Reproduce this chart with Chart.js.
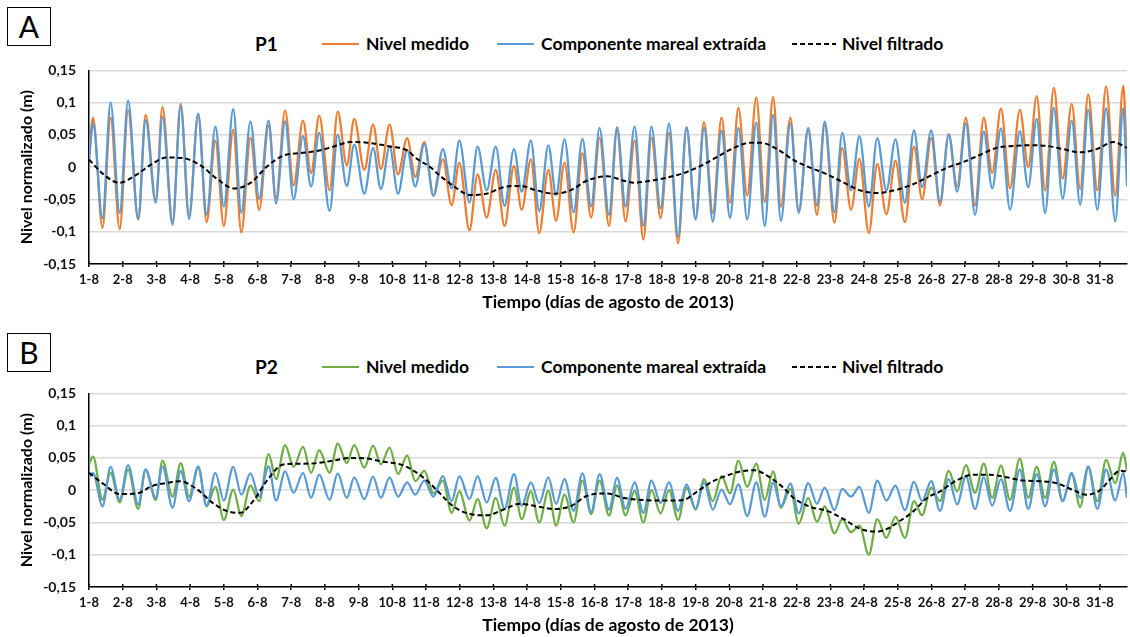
<!DOCTYPE html>
<html>
<head>
<meta charset="utf-8">
<script src="https://cdn.jsdelivr.net/npm/chart.js@4.4.1/dist/chart.umd.min.js"></script>
<style>
    body { margin: 0; background: #fff; font-family: Lato, "Open Sans", sans-serif; color: #000; }
    #page { position: relative; width: 1130px; height: 637px; overflow: hidden; }
    .box { position: absolute; left: 7px; width: 42px; height: 37px; border: 1px solid #000;
           font-size: 30px; line-height: 37px; text-align: center; }
    .lbl { position: absolute; height: 22px; line-height: 22px; font-weight: bold; font-size: 17.5px; white-space: nowrap; }
    .muestra { position: absolute; height: 0; }
    .guion { position: absolute; }
    .wrap { position: absolute; left: 0; width: 1130px; height: 265px; }
</style>
</head>
<body>
<div id="page">
    <div class="box" style="top:7px">A</div>
    <div class="box" style="top:333px">B</div>

    <!-- cabecera panel A -->
    <div class="lbl" style="left:255px; top:33px; font-size:19px">P1</div>
    <div class="muestra" style="left:322px; top:43px; width:37px; border-top:2.5px solid #ED7D31"></div>
    <div class="lbl" style="left:366px; top:33px">Nivel medido</div>
    <div class="muestra" style="left:497px; top:43px; width:37px; border-top:2.5px solid #5B9BD5"></div>
    <div class="lbl" style="left:541px; top:33px">Componente mareal extraída</div>
    <svg class="guion" style="left:792px; top:41px" width="44" height="6"><line x1="0" y1="3" x2="44" y2="3" stroke="#000" stroke-width="2.2" stroke-dasharray="5,3"/></svg>
    <div class="lbl" style="left:842px; top:33px">Nivel filtrado</div>

    <!-- cabecera panel B -->
    <div class="lbl" style="left:255px; top:356px; font-size:19px">P2</div>
    <div class="muestra" style="left:322px; top:366px; width:37px; border-top:2.5px solid #70AD47"></div>
    <div class="lbl" style="left:366px; top:356px">Nivel medido</div>
    <div class="muestra" style="left:497px; top:366px; width:37px; border-top:2.5px solid #5B9BD5"></div>
    <div class="lbl" style="left:541px; top:356px">Componente mareal extraída</div>
    <svg class="guion" style="left:792px; top:364px" width="44" height="6"><line x1="0" y1="3" x2="44" y2="3" stroke="#000" stroke-width="2.2" stroke-dasharray="5,3"/></svg>
    <div class="lbl" style="left:842px; top:356px">Nivel filtrado</div>

    <div class="wrap" style="top:49px"><canvas id="chartA"></canvas></div>
    <div class="wrap" style="top:372px"><canvas id="chartB"></canvas></div>
</div>

<script>
// dias desde el 1-8 00:00, en los picos y valles de la marea
var diasExtremos = [0, 0.12, 0.40, 0.64, 0.91, 1.16, 1.46, 1.68, 1.98, 2.18, 2.48, 2.72, 2.97, 3.24, 3.49, 3.75, 4.00, 4.28, 4.52, 4.79, 5.05,
    5.33, 5.55, 5.82, 6.07, 6.35, 6.59, 6.83, 7.14, 7.38, 7.65, 7.87, 8.17, 8.43, 8.66, 8.92, 9.17, 9.44, 9.68, 9.95,
    10.22, 10.50, 10.76, 10.99, 11.29, 11.53, 11.80, 12.07, 12.33, 12.61, 12.84, 13.11, 13.36, 13.63, 13.86, 14.11, 14.38, 14.64, 14.90, 15.15,
    15.43, 15.67, 15.92, 16.19, 16.45, 16.69, 16.96, 17.21, 17.48, 17.73, 18.00, 18.25, 18.51, 18.77, 19.02, 19.27, 19.53, 19.80, 20.05,
    20.30, 20.53, 20.81, 21.06, 21.34, 21.60, 21.83, 22.12, 22.35, 22.61, 22.86, 23.14, 23.39, 23.66, 23.93, 24.21, 24.48, 24.72, 24.99,
    25.25, 25.51, 25.76, 26.02, 26.29, 26.55, 26.80, 27.06, 27.33, 27.62, 27.87, 28.12, 28.37, 28.63, 28.89, 29.16, 29.41, 29.65, 29.92, 30.18, 30.45, 30.69, 30.8];

// P1
var p1Medido = [0.015,
    0.077, -0.094, 0.077, -0.096, 0.088, -0.081, 0.081, -0.050, 0.093, -0.084, 0.098, -0.074, 0.081, -0.085, 0.041, -0.091, 0.058, -0.101, 0.046, -0.066,
    0.065, -0.048, 0.088, -0.028, 0.072, -0.009, 0.080, -0.036, 0.086, 0.003, 0.075, -0.004, 0.066, -0.003, 0.066, -0.011, 0.045, -0.015, 0.039,
    -0.044, 0.012, -0.059, 0.007, -0.098, -0.011, -0.078, -0.004, -0.091, 0.002, -0.066, 0.012, -0.102, -0.004, -0.083, 0.007, -0.101, 0.022, -0.078, 0.046,
    -0.091, 0.058, -0.084, 0.041, -0.112, 0.046, -0.079, 0.053, -0.118, 0.061, -0.079, 0.070, -0.071, 0.077, -0.055, 0.092, -0.044, 0.108, -0.054,
    0.109, -0.061, 0.077, -0.068, 0.058, -0.074, 0.066, -0.086, 0.030, -0.066, 0.013, -0.102, 0.005, -0.073, 0.010, -0.085, 0.032, -0.050, 0.045,
    -0.059, 0.051, -0.030, 0.077, -0.059, 0.077, -0.009, 0.091, -0.033, 0.089, 0.000, 0.110, -0.036, 0.123, -0.018, 0.098, -0.034, 0.113, -0.036, 0.125, -0.044, 0.126,
    0.000];
var p1Mareal = [0.010,
    0.068, -0.079, 0.100, -0.071, 0.103, -0.081, 0.073, -0.055, 0.078, -0.089, 0.095, -0.080, 0.083, -0.074, 0.063, -0.061, 0.090, -0.071, 0.071, -0.049,
    0.072, -0.056, 0.071, -0.050, 0.048, -0.030, 0.053, -0.068, 0.050, -0.029, 0.035, -0.041, 0.030, -0.034, 0.032, -0.041, 0.027, -0.030, 0.036,
    -0.044, 0.028, -0.033, 0.041, -0.055, 0.032, -0.036, 0.032, -0.060, 0.028, -0.038, 0.041, -0.068, 0.034, -0.043, 0.043, -0.070, 0.044, -0.061, 0.061,
    -0.074, 0.062, -0.061, 0.063, -0.091, 0.063, -0.064, 0.068, -0.108, 0.062, -0.081, 0.061, -0.084, 0.057, -0.079, 0.061, -0.081, 0.069, -0.091,
    0.081, -0.083, 0.068, -0.071, 0.061, -0.059, 0.071, -0.070, 0.053, -0.036, 0.048, -0.061, 0.045, -0.036, 0.043, -0.055, 0.057, -0.031, 0.057,
    -0.054, 0.051, -0.038, 0.068, -0.074, 0.055, -0.033, 0.060, -0.066, 0.056, -0.031, 0.075, -0.071, 0.092, -0.049, 0.072, -0.058, 0.089, -0.066, 0.091, -0.084, 0.091,
    -0.030];
var diasFiltradoP1 = [0, 0.45, 0.9, 1.4, 1.9, 2.3, 2.8, 3.3, 3.8, 4.3, 4.8, 5.28, 5.77, 6.27, 6.76, 7.26, 7.75, 8.25, 8.94, 9.44, 9.73, 10.13,
    10.32, 10.81, 11.31, 11.80, 12.30, 12.79, 13.29, 13.78, 14.28, 14.77, 15.38, 15.87, 16.17, 16.66, 17.16, 17.65, 18.15, 18.64, 19.14,
    19.63, 19.93, 20.42, 20.91, 21.41, 21.90, 22.40, 22.89, 23.39, 23.88, 24.38, 24.87, 25.45, 25.94, 26.44, 26.93, 27.43, 27.92, 28.42,
    28.91, 29.41, 29.90, 30.40, 30.8];
var p1Filtrado = [0.012, -0.012, -0.024, -0.012, 0.006, 0.015, 0.014, 0.003, -0.018, -0.033, -0.024, 0.001, 0.018, 0.022, 0.025, 0.032, 0.039, 0.038, 0.032, 0.026, 0.013, 0.000,
    -0.009, -0.029, -0.043, -0.041, -0.031, -0.029, -0.036, -0.041, -0.036, -0.021, -0.014, -0.021, -0.024, -0.021, -0.016, -0.009, 0.002, 0.016, 0.030,
    0.038, 0.038, 0.028, 0.011, -0.001, -0.011, -0.024, -0.036, -0.040, -0.036, -0.028, -0.016, -0.001, 0.008, 0.019, 0.030, 0.033, 0.034, 0.033,
    0.028, 0.023, 0.028, 0.039, 0.030];

// P2
var p2Medido = [0.040,
    0.052, -0.015, 0.027, -0.019, 0.032, -0.029, 0.032, -0.015, 0.046, -0.010, 0.042, -0.010, 0.035, -0.025, 0.005, -0.046, 0.001, -0.040, 0.007, -0.017,
    0.056, 0.017, 0.070, 0.036, 0.067, 0.027, 0.062, 0.027, 0.072, 0.042, 0.070, 0.035, 0.069, 0.040, 0.066, 0.025, 0.054, 0.014, 0.030,
    -0.005, 0.015, -0.035, -0.002, -0.047, -0.014, -0.059, -0.012, -0.055, 0.004, -0.045, -0.002, -0.050, -0.001, -0.055, -0.007, -0.050, 0.015, -0.037, 0.015,
    -0.039, 0.007, -0.039, -0.001, -0.050, 0.000, -0.036, 0.000, -0.046, 0.004, -0.030, 0.017, -0.017, 0.022, -0.005, 0.046, 0.005, 0.041, -0.015,
    0.029, -0.027, 0.002, -0.052, -0.012, -0.049, -0.025, -0.067, -0.045, -0.065, -0.055, -0.100, -0.045, -0.074, -0.041, -0.074, -0.017, -0.039, 0.004,
    -0.017, 0.030, -0.002, 0.039, -0.004, 0.041, -0.012, 0.038, -0.015, 0.049, -0.012, 0.036, -0.012, 0.044, -0.017, 0.025, -0.026, 0.035, -0.017, 0.047, 0.011, 0.058,
    0.030];
var p2Mareal = [0.020,
    0.027, -0.025, 0.036, -0.015, 0.039, -0.022, 0.032, -0.012, 0.037, -0.027, 0.030, -0.017, 0.037, -0.024, 0.027, -0.016, 0.036, -0.007, 0.026, -0.010,
    0.037, -0.016, 0.029, -0.004, 0.027, -0.012, 0.024, -0.015, 0.026, -0.012, 0.020, -0.014, 0.021, -0.012, 0.020, -0.010, 0.012, -0.007, 0.015,
    -0.010, 0.022, -0.017, 0.022, -0.014, 0.022, -0.019, 0.019, -0.029, 0.025, -0.024, 0.012, -0.020, 0.020, -0.021, 0.017, -0.032, 0.026, -0.034, 0.025,
    -0.030, 0.019, -0.029, 0.012, -0.035, 0.015, -0.020, 0.012, -0.032, 0.009, -0.029, 0.012, -0.030, 0.001, -0.022, 0.009, -0.040, 0.012, -0.041,
    0.012, -0.025, 0.010, -0.036, 0.011, -0.021, 0.004, -0.031, 0.002, -0.010, 0.005, -0.035, 0.015, -0.016, 0.007, -0.031, 0.013, -0.017, 0.014,
    -0.032, 0.017, -0.022, 0.022, -0.029, 0.020, -0.024, 0.017, -0.032, 0.032, -0.029, 0.025, -0.025, 0.032, -0.017, 0.027, -0.012, 0.037, -0.029, 0.032, -0.016, 0.027,
    -0.012];
var diasFiltradoP2 = [0, 0.42, 0.91, 1.41, 1.90, 2.40, 2.69, 3.19, 3.68, 4.08, 4.48, 4.87, 5.28, 5.77, 6.27, 6.76, 7.26, 7.75, 8.25, 8.74, 9.24, 9.73, 10.13,
    10.32, 10.81, 11.31, 11.80, 12.30, 12.79, 13.29, 13.78, 14.28, 14.77, 15.38, 15.87, 16.37, 16.86, 17.36, 17.65, 18.05, 18.45, 18.84,
    19.34, 19.73, 20.2, 20.6, 20.91, 21.41, 21.90, 22.40, 22.89, 23.39, 23.68, 24.08, 24.48, 24.87, 25.25, 25.74, 26.24, 26.73, 27.23,
    27.72, 28.22, 28.71, 29.21, 29.60, 30.0, 30.30, 30.59, 30.8];
var p2Filtrado = [0.027, 0.010, -0.006, -0.005, 0.007, 0.012, 0.014, 0.002, -0.020, -0.032, -0.035, -0.017, 0.015, 0.040, 0.041, 0.042, 0.046, 0.050, 0.049, 0.044, 0.040, 0.027, 0.010,
    0.000, -0.025, -0.037, -0.039, -0.030, -0.021, -0.025, -0.029, -0.025, -0.009, -0.005, -0.012, -0.015, -0.016, -0.016, -0.015, -0.002, 0.012, 0.021,
    0.029, 0.031, 0.020, 0.004, -0.012, -0.026, -0.032, -0.045, -0.060, -0.064, -0.060, -0.047, -0.032, -0.012, -0.002, 0.015, 0.024, 0.024, 0.020,
    0.015, 0.014, 0.011, 0.000, -0.007, 0.000, 0.017, 0.030, 0.029];

var etiquetasDias = ['1-8', '2-8', '3-8', '4-8', '5-8', '6-8', '7-8', '8-8', '9-8', '10-8', '11-8', '12-8', '13-8', '14-8', '15-8', '16-8',
    '17-8', '18-8', '19-8', '20-8', '21-8', '22-8', '23-8', '24-8', '25-8', '26-8', '27-8', '28-8', '29-8', '30-8', '31-8'];

var NARANJA = '#ED7D31', AZUL = '#5B9BD5', VERDE = '#70AD47';

function puntos(dias, valores) {
    return dias.map(function (d, i) { return {x: d, y: valores[i]}; });
}

// marcas del eje x que cruzan la linea del eje
var marcasCruzadas = {
    id: 'marcasCruzadas',
    afterDraw: function (chart) {
        var ctx = chart.ctx, xs = chart.scales.x, b = chart.chartArea.bottom;
        ctx.save();
        ctx.strokeStyle = '#000';
        ctx.lineWidth = 1.5;
        for (var i = 0; i < etiquetasDias.length; i++) {
            var px = xs.getPixelForValue(i);
            ctx.beginPath();
            ctx.moveTo(px, b - 3);
            ctx.lineTo(px, b);
            ctx.stroke();
        }
        ctx.restore();
    }
};

function crearGrafico(id, colorMedido, medido, mareal, diasFiltrado, filtrado, padTop) {
    return new Chart(document.getElementById(id), {
        type: 'line',
        data: {
            datasets: [
                {data: puntos(diasFiltrado, filtrado), borderColor: '#000', borderWidth: 2, borderDash: [5, 3], order: 0},
                {data: puntos(diasExtremos, mareal), borderColor: AZUL, borderWidth: 2.25, order: 1},
                {data: puntos(diasExtremos, medido), borderColor: colorMedido, borderWidth: 2.25, order: 2}
            ]
        },
        options: {
            responsive: true,
            maintainAspectRatio: false,
            animation: false,
            events: [],
            layout: {padding: {top: padTop, right: 3, left: 0, bottom: 0}},
            elements: {
                point: {radius: 0},
                line: {cubicInterpolationMode: 'monotone', fill: false}
            },
            plugins: {legend: {display: false}, tooltip: {enabled: false}},
            scales: {
                x: {
                    type: 'linear',
                    min: 0,
                    max: 30.8,
                    afterFit: function (s) { s.height = 50; },
                    grid: {drawOnChartArea: false, drawTicks: true, tickLength: 3, color: '#000', lineWidth: 1.5},
                    border: {display: true, color: '#000', width: 1.5},
                    ticks: {
                        stepSize: 1,
                        includeBounds: false,
                        autoSkip: false,
                        maxRotation: 0,
                        padding: 5,
                        color: '#111',
                        font: {family: 'Lato', weight: 'bold', size: 13},
                        callback: function (v) { return etiquetasDias[v]; }
                    },
                    title: {
                        display: true,
                        text: 'Tiempo (días de agosto de 2013)',
                        color: '#000',
                        font: {family: 'Lato', weight: 'bold', size: 17.5},
                        padding: {top: 0, bottom: 1}
                    }
                },
                y: {
                    min: -0.15,
                    max: 0.15,
                    afterFit: function (s) { s.width = 89; },
                    grid: {color: '#d9d9d9', lineWidth: 1.5, drawTicks: false},
                    border: {display: true, color: '#000', width: 1.5},
                    ticks: {
                        stepSize: 0.05,
                        padding: 13,
                        color: '#111',
                        font: {family: 'Lato', weight: 'bold', size: 14},
                        callback: function (v) { return String(Math.round(v * 100) / 100).replace('.', ','); }
                    },
                    title: {
                        display: true,
                        text: 'Nivel normalizado (m)',
                        color: '#000',
                        font: {family: 'Lato', weight: 'bold', size: 16},
                        padding: {top: 17, bottom: 0}
                    }
                }
            }
        },
        plugins: [marcasCruzadas]
    });
}

crearGrafico('chartA', NARANJA, p1Medido, p1Mareal, diasFiltradoP1, p1Filtrado, 13);
crearGrafico('chartB', VERDE, p2Medido, p2Mareal, diasFiltradoP2, p2Filtrado, 12);
</script>
</body>
</html>
